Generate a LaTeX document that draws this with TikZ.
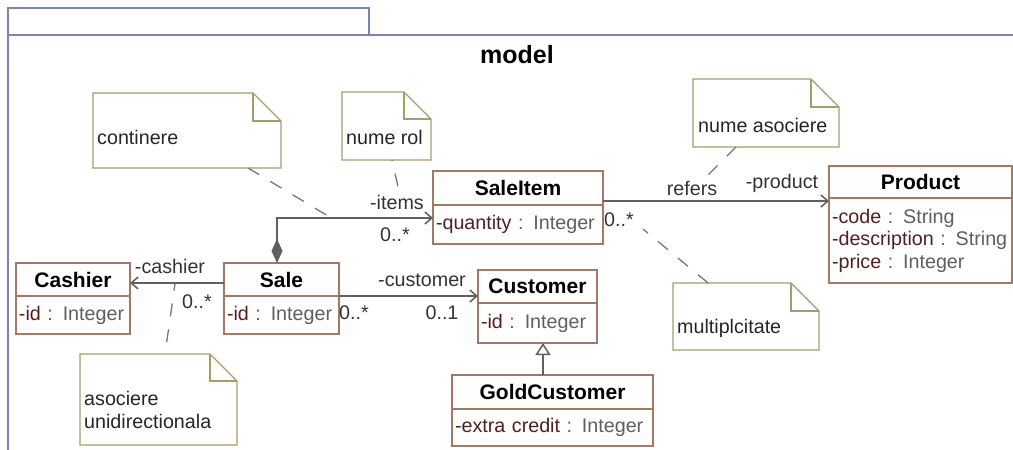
\documentclass[tikz,border=0pt]{standalone}
\usepackage{fontspec}
\setmainfont{Liberation Sans}
\usetikzlibrary{arrows.meta,calc}
\definecolor{clsb}{RGB}{160,122,102}
\definecolor{noteb}{RGB}{166,157,108}
\definecolor{frameb}{RGB}{124,132,178}
\definecolor{attrc}{RGB}{84,30,30}
\definecolor{typec}{RGB}{95,95,95}
\definecolor{connc}{RGB}{96,96,96}
\definecolor{lblc}{RGB}{51,51,51}
\newcommand\attrline[2]{\textcolor{attrc}{-#1} \textcolor{typec}{: #2}}
\newcommand\regfont{\fontsize{19.7}{22.5}\selectfont}
\newcommand\mkfold[2]{%
  \draw[noteline] (#1.south west) -- (#1.north west) -- ([xshift=-#2]#1.north east) -- ([yshift=-#2]#1.north east) -- (#1.south east) -- cycle;
  \draw[noteline] ([xshift=-#2]#1.north east) -- ([xshift=-#2,yshift=-#2]#1.north east) -- ([yshift=-#2]#1.north east);}
\begin{document}
\begin{tikzpicture}[x=1pt,y=-1pt,
 hdr/.style={draw=clsb, line width=1.3pt, fill=white, anchor=north west, inner sep=0pt, outer sep=0pt, font=\fontsize{21}{24}\selectfont\bfseries},
 attrbox/.style={draw=clsb, line width=1.3pt, fill=white, anchor=north west, inner xsep=3pt, inner ysep=0pt, outer sep=0pt, align=left, font=\regfont},
 notebox/.style={anchor=north west, inner sep=0pt, outer sep=0pt, fill=white},
 noteline/.style={draw=noteb, line width=1.3pt, line join=miter},
 ntext/.style={anchor=west, inner sep=0pt, text=black!85, font=\regfont, align=left},
 lbl/.style={inner sep=0pt, text=lblc, font=\regfont},
 conn/.style={draw=connc, line width=1.5pt},
 notelink/.style={draw=connc!85, line width=1.3pt, dash pattern=on 13pt off 13pt},
 opena/.style={-{Straight Barb[length=7pt,width=12pt]}},
]
\useasboundingbox (0,0) rectangle (1013,450);
\fill[white] (0,0) rectangle (1013,450);

% package frame
\draw[frameb, line width=1.3pt] (8,35) rectangle (369,8);
\draw[frameb, line width=1.3pt] (1013,35) -- (8,35) -- (8,450);
\node[font=\fontsize{25}{28}\selectfont\bfseries, inner sep=0pt] (title) at (517,55) {model};

% notes
\node[notebox, minimum width=188pt, minimum height=75pt] (n1) at (93,93) {};
\mkfold{n1}{28pt}
\node[ntext] (n1t) at (97,137) {continere};

\node[notebox, minimum width=89pt, minimum height=68pt] (n2) at (342,92) {};
\mkfold{n2}{27pt}
\node[ntext] (n2t) at (346,137) {nume rol};

\node[notebox, minimum width=146pt, minimum height=68pt] (n3) at (693,79) {};
\mkfold{n3}{28pt}
\node[ntext] (n3t) at (698,125) {nume asociere};

\node[notebox, minimum width=146pt, minimum height=67pt] (n4) at (673,283) {};
\mkfold{n4}{28pt}
\node[ntext] (n4t) at (677,328) {multiplcitate};

\node[notebox, minimum width=157pt, minimum height=91pt] (n5) at (80,354) {};
\mkfold{n5}{27pt}
\node[ntext] (n5t) at (84,410) {asociere\\unidirectionala};

% classes
\node[hdr, minimum width=170pt, minimum height=34pt] (sih) at (433,171) {SaleItem};
\node[attrbox, text width=164pt, minimum height=39pt] (sia) at (sih.south west) {\attrline{quantity}{Integer}};

\node[hdr, minimum width=183pt, minimum height=32pt] (prh) at (829,166) {Product};
\node[attrbox, text width=177pt, minimum height=85pt] (pra) at (prh.south west) {\attrline{code}{String}\\\attrline{description}{String}\\\attrline{price}{Integer}};

\node[hdr, minimum width=114pt, minimum height=33pt] (cah) at (16,263) {Cashier};
\node[attrbox, text width=108pt, minimum height=38pt] (caa) at (cah.south west) {\attrline{id}{Integer}};

\node[hdr, minimum width=115pt, minimum height=33pt] (saleh) at (224,263) {Sale};
\node[attrbox, text width=109pt, minimum height=38pt] (salea) at (saleh.south west) {\attrline{id}{Integer}};

\node[hdr, minimum width=119pt, minimum height=33pt] (cuh) at (478,270) {Customer};
\node[attrbox, text width=113pt, minimum height=40pt] (cua) at (cuh.south west) {\attrline{id}{Integer}};

\node[hdr, minimum width=201pt, minimum height=34pt] (gch) at (452,375) {GoldCustomer};
\node[attrbox, text width=195pt, minimum height=37pt] (gca) at (gch.south west) {\attrline{extra credit}{Integer}};

% connectors
\coordinate (s1) at ([xshift=-4.5pt]saleh.north);
\coordinate (s2) at ([yshift=-13pt]sih.south west);
\draw[conn, {Diamond[length=24pt,width=11pt]}-{Straight Barb[length=7pt,width=12pt]}] (s1) |- (s2);

\coordinate (r1) at ([yshift=-30pt]sih.north east);
\draw[conn,opena] (r1) -- (r1 -| prh.west);

\coordinate (c1) at ([yshift=-20pt]saleh.north west);
\draw[conn,opena] (c1) -- (c1 -| cah.east);

\draw[conn,opena] (saleh.south east) -- (saleh.south east -| cuh.west);

\coordinate (gx) at (543,0);
\draw[conn, -{Triangle[open,length=12pt,width=15pt,fill=white]}] (gx |- gch.north) -- (gx |- cua.south);

% labels
\node[lbl] (l1) at (397,202) {-items};
\node[lbl] (l2) at (395,235) {0..*};
\node[lbl] (l3) at (692,188) {refers};
\node[lbl] (l4) at (782,183) {-product};
\node[lbl] (l5) at (619,220) {0..*};
\node[lbl] (l6) at (170,266) {-cashier};
\node[lbl] (l7) at (197,302) {0..*};
\node[lbl] (l8) at (422,280) {-customer};
\node[lbl] (l9) at (354,313) {0..*};
\node[lbl] (l10) at (442,313) {0..1};

% note links
\coordinate (d1) at (328,216);
\draw[notelink] ([xshift=-33pt]n1.south east) -- (d1);
\coordinate (d2) at (399,191);
\draw[notelink, dash phase=12pt] ([xshift=-39pt]n2.south east) -- (d2);
\coordinate (d3) at (703,180);
\draw[notelink] ([xshift=-103pt]n3.south east) -- (d3);
\coordinate (d4) at (643,229);
\draw[notelink] ([xshift=35pt]n4.north west) -- (d4);
\coordinate (d5) at (175,284);
\draw[notelink, dash phase=14pt] ([xshift=85pt]n5.north west) -- (d5);
\end{tikzpicture}
\end{document}
